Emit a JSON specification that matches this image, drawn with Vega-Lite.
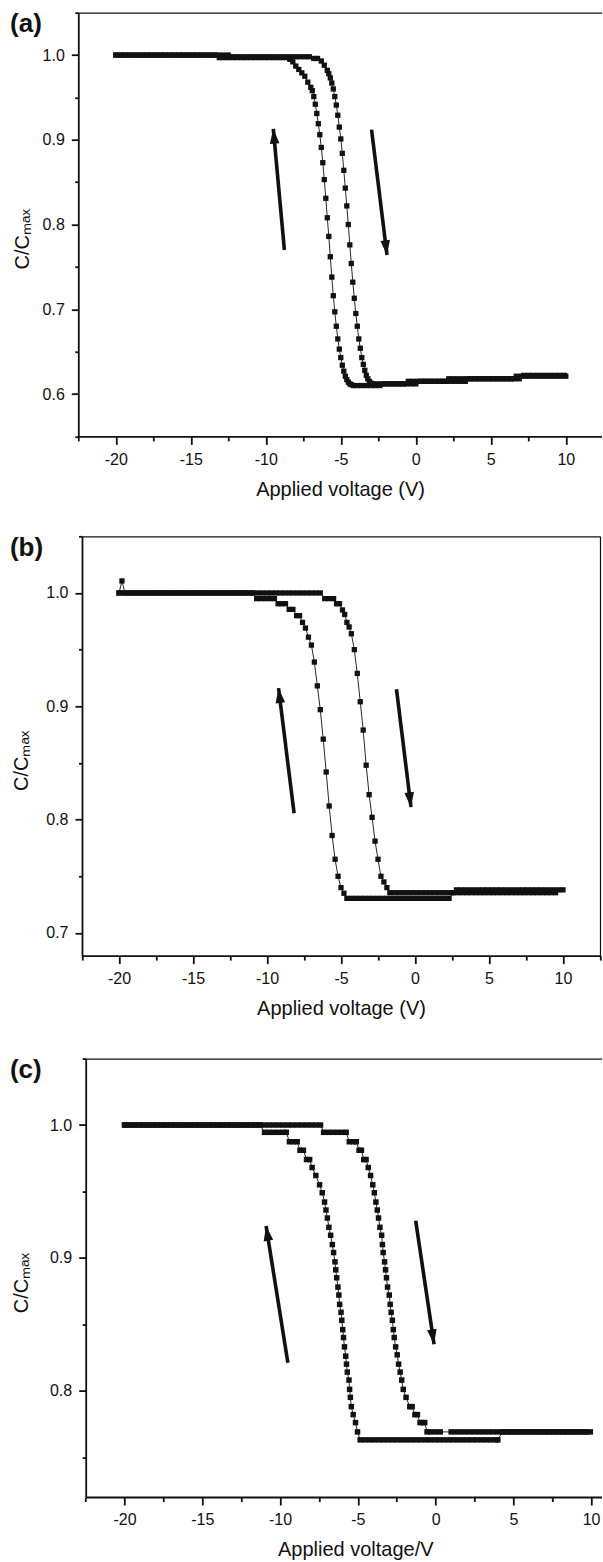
{
"$schema":"https://vega.github.io/schema/vega-lite/v6.json",
"padding":{"left":9.3,"top":4.7,"right":0,"bottom":0},
"config":{"view":{"stroke":null},"font":"Liberation Sans",
"axis":{"domainColor":"#111","domainWidth":1.8,"tickColor":"#111","tickWidth":1.8,"labelFont":"Liberation Sans","labelFontSize":16,"labelColor":"#111","labelPadding":7,"labelFlush":false,"labelOverlap":false,"titleFont":"Liberation Sans","titleFontSize":20,"titleFontWeight":"normal","titleColor":"#111","grid":false}},
"datasets":{
"af":[{"v":-20,"c":1},{"v":-19.7,"c":1},{"v":-19.4,"c":1},{"v":-19.1,"c":1},{"v":-18.8,"c":1},{"v":-18.5,"c":1},{"v":-18.2,"c":1},{"v":-17.9,"c":1},{"v":-17.6,"c":1},{"v":-17.3,"c":1},{"v":-17,"c":1},{"v":-16.7,"c":1},{"v":-16.4,"c":1},{"v":-16.1,"c":1},{"v":-15.8,"c":1},{"v":-15.5,"c":1},{"v":-15.2,"c":1},{"v":-14.9,"c":1},{"v":-14.6,"c":1},{"v":-14.3,"c":1},{"v":-14,"c":1},{"v":-13.7,"c":1},{"v":-13.4,"c":1},{"v":-13.1,"c":1},{"v":-12.8,"c":1},{"v":-12.5,"c":1},
{"v":-12.2,"c":0.998},{"v":-11.9,"c":0.998},{"v":-11.6,"c":0.998},{"v":-11.3,"c":0.998},{"v":-11,"c":0.998},{"v":-10.7,"c":0.998},{"v":-10.4,"c":0.998},{"v":-10.1,"c":0.998},{"v":-9.8,"c":0.998},{"v":-9.5,"c":0.998},{"v":-9.2,"c":0.998},{"v":-8.9,"c":0.998},{"v":-8.6,"c":0.998},{"v":-8.3,"c":0.998},{"v":-8,"c":0.998},{"v":-7.7,"c":0.998},{"v":-7.4,"c":0.998},{"v":-7.1,"c":0.998},{"v":-6.8,"c":0.996},{"v":-6.55,"c":0.996},
{"v":-6.3,"c":0.993},{"v":-6.1,"c":0.988},{"v":-5.9,"c":0.982},{"v":-5.8,"c":0.978},{"v":-5.7,"c":0.973},{"v":-5.6,"c":0.967},{"v":-5.5,"c":0.96},{"v":-5.4,"c":0.951},{"v":-5.3,"c":0.941},{"v":-5.2,"c":0.929},{"v":-5.1,"c":0.915},{"v":-5,"c":0.901},{"v":-4.9,"c":0.884},{"v":-4.8,"c":0.864},{"v":-4.7,"c":0.843},{"v":-4.6,"c":0.822},{"v":-4.5,"c":0.8},{"v":-4.4,"c":0.776},{"v":-4.3,"c":0.754},{"v":-4.2,"c":0.732},{"v":-4.1,"c":0.713},{"v":-4,"c":0.695},{"v":-3.9,"c":0.68},{"v":-3.8,"c":0.665},{"v":-3.7,"c":0.654},{"v":-3.6,"c":0.643},{"v":-3.5,"c":0.635},{"v":-3.4,"c":0.628},{"v":-3.3,"c":0.622},{"v":-3.2,"c":0.618},{"v":-3.1,"c":0.615},{"v":-3,"c":0.613},{"v":-2.85,"c":0.612},
{"v":-2.6,"c":0.612},{"v":-2.3,"c":0.612},{"v":-2,"c":0.612},{"v":-1.7,"c":0.612},{"v":-1.4,"c":0.612},{"v":-1.1,"c":0.612},{"v":-0.8,"c":0.612},
{"v":-0.5,"c":0.615},{"v":-0.2,"c":0.615},{"v":0.1,"c":0.615},{"v":0.4,"c":0.615},{"v":0.7,"c":0.615},{"v":1,"c":0.615},{"v":1.3,"c":0.615},{"v":1.6,"c":0.615},{"v":1.9,"c":0.615},
{"v":2.2,"c":0.618},{"v":2.5,"c":0.618},{"v":2.8,"c":0.618},{"v":3.1,"c":0.618},{"v":3.4,"c":0.618},{"v":3.7,"c":0.618},{"v":4,"c":0.618},{"v":4.3,"c":0.618},{"v":4.6,"c":0.618},{"v":4.9,"c":0.618},{"v":5.2,"c":0.618},{"v":5.5,"c":0.618},{"v":5.8,"c":0.618},{"v":6.1,"c":0.618},{"v":6.4,"c":0.618},
{"v":6.7,"c":0.621},{"v":7,"c":0.621},{"v":7.3,"c":0.621},{"v":7.6,"c":0.621},{"v":7.9,"c":0.621},{"v":8.2,"c":0.621},{"v":8.5,"c":0.621},{"v":8.8,"c":0.621},{"v":9.1,"c":0.621},{"v":9.4,"c":0.621},{"v":9.7,"c":0.621},{"v":10,"c":0.621}],
"ar":[{"v":-20,"c":1},{"v":-19.7,"c":1},{"v":-19.4,"c":1},{"v":-19.1,"c":1},{"v":-18.8,"c":1},{"v":-18.5,"c":1},{"v":-18.2,"c":1},{"v":-17.9,"c":1},{"v":-17.6,"c":1},{"v":-17.3,"c":1},{"v":-17,"c":1},{"v":-16.7,"c":1},{"v":-16.4,"c":1},{"v":-16.1,"c":1},{"v":-15.8,"c":1},{"v":-15.5,"c":1},{"v":-15.2,"c":1},{"v":-14.9,"c":1},{"v":-14.6,"c":1},{"v":-14.3,"c":1},{"v":-14,"c":1},{"v":-13.7,"c":1},{"v":-13.4,"c":1},
{"v":-13.1,"c":0.997},{"v":-12.8,"c":0.997},{"v":-12.5,"c":0.997},{"v":-12.2,"c":0.997},{"v":-11.9,"c":0.997},{"v":-11.6,"c":0.997},{"v":-11.3,"c":0.997},{"v":-11,"c":0.997},{"v":-10.7,"c":0.997},{"v":-10.4,"c":0.997},{"v":-10.1,"c":0.997},{"v":-9.8,"c":0.997},{"v":-9.5,"c":0.997},{"v":-9.2,"c":0.997},{"v":-8.9,"c":0.997},{"v":-8.6,"c":0.997},
{"v":-8.4,"c":0.995},{"v":-8.2,"c":0.992},{"v":-8,"c":0.987},{"v":-7.8,"c":0.983},{"v":-7.6,"c":0.979},{"v":-7.4,"c":0.975},{"v":-7.2,"c":0.968},{"v":-7,"c":0.962},{"v":-6.9,"c":0.958},{"v":-6.8,"c":0.951},{"v":-6.7,"c":0.942},{"v":-6.6,"c":0.931},{"v":-6.5,"c":0.919},{"v":-6.4,"c":0.906},{"v":-6.3,"c":0.891},{"v":-6.2,"c":0.873},{"v":-6.1,"c":0.853},{"v":-6,"c":0.831},{"v":-5.9,"c":0.808},{"v":-5.8,"c":0.786},{"v":-5.7,"c":0.762},{"v":-5.6,"c":0.738},{"v":-5.5,"c":0.716},{"v":-5.4,"c":0.697},{"v":-5.3,"c":0.68},{"v":-5.2,"c":0.665},{"v":-5.1,"c":0.653},{"v":-5,"c":0.643},{"v":-4.9,"c":0.634},{"v":-4.8,"c":0.627},{"v":-4.7,"c":0.621},{"v":-4.6,"c":0.617},{"v":-4.5,"c":0.614},{"v":-4.4,"c":0.612},{"v":-4.3,"c":0.611},{"v":-4.15,"c":0.61},
{"v":-3.9,"c":0.61},{"v":-3.6,"c":0.61},{"v":-3.3,"c":0.61},{"v":-3,"c":0.61},{"v":-2.7,"c":0.61},{"v":-2.4,"c":0.61},
{"v":-2.1,"c":0.612},{"v":-1.8,"c":0.612},{"v":-1.5,"c":0.612},{"v":-1.2,"c":0.612},{"v":-0.9,"c":0.612},{"v":-0.6,"c":0.612},{"v":-0.3,"c":0.612},{"v":0,"c":0.612},
{"v":0.3,"c":0.615},{"v":0.6,"c":0.615},{"v":0.9,"c":0.615},{"v":1.2,"c":0.615},{"v":1.5,"c":0.615},{"v":1.8,"c":0.615},{"v":2.1,"c":0.615},{"v":2.4,"c":0.615},{"v":2.7,"c":0.615},{"v":3,"c":0.615},{"v":3.3,"c":0.615},
{"v":3.6,"c":0.618},{"v":3.9,"c":0.618},{"v":4.2,"c":0.618},{"v":4.5,"c":0.618},{"v":4.8,"c":0.618},{"v":5.1,"c":0.618},{"v":5.4,"c":0.618},{"v":5.7,"c":0.618},{"v":6,"c":0.618},{"v":6.3,"c":0.618},{"v":6.6,"c":0.618},{"v":6.9,"c":0.618},
{"v":7.2,"c":0.622},{"v":7.5,"c":0.622},{"v":7.8,"c":0.622},{"v":8.1,"c":0.622},{"v":8.4,"c":0.622},{"v":8.7,"c":0.622},{"v":9,"c":0.622},{"v":9.3,"c":0.622},{"v":9.6,"c":0.622},{"v":9.9,"c":0.622}],
"bf":[{"v":-20,"c":1},{"v":-19.8,"c":1.0106},{"v":-19.6,"c":1},{"v":-19.3,"c":1},{"v":-19,"c":1},{"v":-18.7,"c":1},{"v":-18.4,"c":1},{"v":-18.1,"c":1},{"v":-17.8,"c":1},{"v":-17.5,"c":1},{"v":-17.2,"c":1},{"v":-16.9,"c":1},{"v":-16.6,"c":1},{"v":-16.3,"c":1},{"v":-16,"c":1},{"v":-15.7,"c":1},{"v":-15.4,"c":1},{"v":-15.1,"c":1},{"v":-14.8,"c":1},{"v":-14.5,"c":1},{"v":-14.2,"c":1},{"v":-13.9,"c":1},{"v":-13.6,"c":1},{"v":-13.3,"c":1},{"v":-13,"c":1},{"v":-12.7,"c":1},{"v":-12.4,"c":1},{"v":-12.1,"c":1},{"v":-11.8,"c":1},{"v":-11.5,"c":1},{"v":-11.2,"c":1},{"v":-10.9,"c":1},{"v":-10.6,"c":1},{"v":-10.3,"c":1},{"v":-10,"c":1},{"v":-9.7,"c":1},{"v":-9.4,"c":1},{"v":-9.1,"c":1},{"v":-8.8,"c":1},{"v":-8.5,"c":1},{"v":-8.2,"c":1},{"v":-7.9,"c":1},{"v":-7.6,"c":1},{"v":-7.3,"c":1},{"v":-7,"c":1},{"v":-6.7,"c":1},{"v":-6.4,"c":1},
{"v":-6.1,"c":0.995},{"v":-5.8,"c":0.995},{"v":-5.5,"c":0.995},{"v":-5.3,"c":0.9905},{"v":-5.1,"c":0.9905},
{"v":-4.9,"c":0.985},{"v":-4.75,"c":0.981},{"v":-4.6,"c":0.974},{"v":-4.45,"c":0.97},{"v":-4.3,"c":0.964},{"v":-4.1,"c":0.95},{"v":-3.9,"c":0.929},{"v":-3.7,"c":0.904},{"v":-3.5,"c":0.879},{"v":-3.3,"c":0.848},{"v":-3.1,"c":0.822},{"v":-2.9,"c":0.802},{"v":-2.7,"c":0.781},{"v":-2.5,"c":0.765},{"v":-2.3,"c":0.75},{"v":-2.1,"c":0.745},{"v":-1.9,"c":0.74},{"v":-1.7,"c":0.7355},
{"v":-1.4,"c":0.7355},{"v":-1.1,"c":0.7355},{"v":-0.8,"c":0.7355},{"v":-0.5,"c":0.7355},{"v":-0.2,"c":0.7355},{"v":0.1,"c":0.7355},{"v":0.4,"c":0.7355},{"v":0.7,"c":0.7355},{"v":1,"c":0.7355},{"v":1.3,"c":0.7355},{"v":1.6,"c":0.7355},{"v":1.9,"c":0.7355},{"v":2.2,"c":0.7355},{"v":2.5,"c":0.7355},
{"v":2.8,"c":0.738},{"v":3.1,"c":0.738},{"v":3.4,"c":0.738},{"v":3.7,"c":0.738},{"v":4,"c":0.738},{"v":4.3,"c":0.738},{"v":4.6,"c":0.738},{"v":4.9,"c":0.738},{"v":5.2,"c":0.738},{"v":5.5,"c":0.738},{"v":5.8,"c":0.738},{"v":6.1,"c":0.738},{"v":6.4,"c":0.738},{"v":6.7,"c":0.738},{"v":7,"c":0.738},{"v":7.3,"c":0.738},{"v":7.6,"c":0.738},{"v":7.9,"c":0.738},{"v":8.2,"c":0.738},{"v":8.5,"c":0.738},{"v":8.8,"c":0.738},{"v":9.1,"c":0.738},{"v":9.4,"c":0.738},{"v":9.7,"c":0.738},{"v":10,"c":0.738}],
"br":[{"v":-20,"c":1},{"v":-19.7,"c":1},{"v":-19.4,"c":1},{"v":-19.1,"c":1},{"v":-18.8,"c":1},{"v":-18.5,"c":1},{"v":-18.2,"c":1},{"v":-17.9,"c":1},{"v":-17.6,"c":1},{"v":-17.3,"c":1},{"v":-17,"c":1},{"v":-16.7,"c":1},{"v":-16.4,"c":1},{"v":-16.1,"c":1},{"v":-15.8,"c":1},{"v":-15.5,"c":1},{"v":-15.2,"c":1},{"v":-14.9,"c":1},{"v":-14.6,"c":1},{"v":-14.3,"c":1},{"v":-14,"c":1},{"v":-13.7,"c":1},{"v":-13.4,"c":1},{"v":-13.1,"c":1},{"v":-12.8,"c":1},{"v":-12.5,"c":1},{"v":-12.2,"c":1},{"v":-11.9,"c":1},{"v":-11.6,"c":1},{"v":-11.3,"c":1},{"v":-11,"c":1},
{"v":-10.7,"c":0.995},{"v":-10.4,"c":0.995},{"v":-10.1,"c":0.995},{"v":-9.8,"c":0.995},{"v":-9.5,"c":0.995},{"v":-9.25,"c":0.9905},{"v":-9,"c":0.9905},{"v":-8.75,"c":0.9905},{"v":-8.5,"c":0.9855},{"v":-8.25,"c":0.9855},{"v":-8,"c":0.98},{"v":-7.8,"c":0.98},
{"v":-7.6,"c":0.974},{"v":-7.4,"c":0.969},{"v":-7.2,"c":0.961},{"v":-7,"c":0.954},{"v":-6.8,"c":0.939},{"v":-6.6,"c":0.918},{"v":-6.4,"c":0.897},{"v":-6.2,"c":0.871},{"v":-6,"c":0.842},{"v":-5.8,"c":0.812},{"v":-5.6,"c":0.786},{"v":-5.4,"c":0.765},{"v":-5.2,"c":0.75},{"v":-5,"c":0.74},{"v":-4.8,"c":0.735},
{"v":-4.6,"c":0.7305},{"v":-4.3,"c":0.7305},{"v":-4,"c":0.7305},{"v":-3.7,"c":0.7305},{"v":-3.4,"c":0.7305},{"v":-3.1,"c":0.7305},{"v":-2.8,"c":0.7305},{"v":-2.5,"c":0.7305},{"v":-2.2,"c":0.7305},{"v":-1.9,"c":0.7305},{"v":-1.6,"c":0.7305},{"v":-1.3,"c":0.7305},{"v":-1,"c":0.7305},{"v":-0.7,"c":0.7305},{"v":-0.4,"c":0.7305},{"v":-0.1,"c":0.7305},{"v":0.2,"c":0.7305},{"v":0.5,"c":0.7305},{"v":0.8,"c":0.7305},{"v":1.1,"c":0.7305},{"v":1.4,"c":0.7305},{"v":1.7,"c":0.7305},{"v":2,"c":0.7305},{"v":2.3,"c":0.7305},
{"v":2.6,"c":0.7355},{"v":2.9,"c":0.7355},{"v":3.2,"c":0.7355},{"v":3.5,"c":0.7355},{"v":3.8,"c":0.7355},{"v":4.1,"c":0.7355},{"v":4.4,"c":0.7355},{"v":4.7,"c":0.7355},{"v":5,"c":0.7355},{"v":5.3,"c":0.7355},{"v":5.6,"c":0.7355},{"v":5.9,"c":0.7355},{"v":6.2,"c":0.7355},{"v":6.5,"c":0.7355},{"v":6.8,"c":0.7355},{"v":7.1,"c":0.7355},{"v":7.4,"c":0.7355},{"v":7.7,"c":0.7355},{"v":8,"c":0.7355},{"v":8.3,"c":0.7355},{"v":8.6,"c":0.7355},{"v":8.9,"c":0.7355},{"v":9.2,"c":0.7355},{"v":9.5,"c":0.7355}],
"cf":[{"v":-20,"c":1},{"v":-19.7,"c":1},{"v":-19.4,"c":1},{"v":-19.1,"c":1},{"v":-18.8,"c":1},{"v":-18.5,"c":1},{"v":-18.2,"c":1},{"v":-17.9,"c":1},{"v":-17.6,"c":1},{"v":-17.3,"c":1},{"v":-17,"c":1},{"v":-16.7,"c":1},{"v":-16.4,"c":1},{"v":-16.1,"c":1},{"v":-15.8,"c":1},{"v":-15.5,"c":1},{"v":-15.2,"c":1},{"v":-14.9,"c":1},{"v":-14.6,"c":1},{"v":-14.3,"c":1},{"v":-14,"c":1},{"v":-13.7,"c":1},{"v":-13.4,"c":1},{"v":-13.1,"c":1},{"v":-12.8,"c":1},{"v":-12.5,"c":1},{"v":-12.2,"c":1},{"v":-11.9,"c":1},{"v":-11.6,"c":1},{"v":-11.3,"c":1},{"v":-11,"c":1},{"v":-10.7,"c":1},{"v":-10.4,"c":1},{"v":-10.1,"c":1},{"v":-9.8,"c":1},{"v":-9.5,"c":1},{"v":-9.2,"c":1},{"v":-8.9,"c":1},{"v":-8.6,"c":1},{"v":-8.3,"c":1},{"v":-8,"c":1},{"v":-7.7,"c":1},{"v":-7.4,"c":1},
{"v":-7.2,"c":0.9945},{"v":-6.9,"c":0.9945},{"v":-6.6,"c":0.9945},{"v":-6.3,"c":0.9945},{"v":-6,"c":0.9945},{"v":-5.75,"c":0.9945},{"v":-5.55,"c":0.9874},{"v":-5.3,"c":0.9874},{"v":-5.1,"c":0.9874},{"v":-4.92,"c":0.981},{"v":-4.77,"c":0.981},
{"v":-4.62,"c":0.974},{"v":-4.47,"c":0.974},{"v":-4.33,"c":0.968},{"v":-4.18,"c":0.962},{"v":-4.04,"c":0.955},{"v":-3.94,"c":0.949},{"v":-3.84,"c":0.942},{"v":-3.75,"c":0.936},{"v":-3.67,"c":0.93},{"v":-3.58,"c":0.923},{"v":-3.47,"c":0.917},{"v":-3.42,"c":0.91},{"v":-3.37,"c":0.904},{"v":-3.28,"c":0.897},{"v":-3.22,"c":0.891},{"v":-3.16,"c":0.885},{"v":-3.09,"c":0.878},{"v":-2.98,"c":0.872},{"v":-2.92,"c":0.865},{"v":-2.86,"c":0.859},{"v":-2.78,"c":0.853},{"v":-2.72,"c":0.846},{"v":-2.66,"c":0.84},{"v":-2.57,"c":0.833},{"v":-2.47,"c":0.827},{"v":-2.38,"c":0.82},{"v":-2.28,"c":0.814},{"v":-2.18,"c":0.808},{"v":-2.08,"c":0.801},{"v":-1.9,"c":0.795},{"v":-1.66,"c":0.788},{"v":-1.51,"c":0.788},{"v":-1.33,"c":0.782},{"v":-1.17,"c":0.782},{"v":-1,"c":0.776},{"v":-0.85,"c":0.776},{"v":-0.7,"c":0.776},
{"v":-0.55,"c":0.769},{"v":-0.3,"c":0.769},{"v":0,"c":0.769},{"v":0.3,"c":0.769},{"v":1,"c":0.769},{"v":1.3,"c":0.769},{"v":1.6,"c":0.769},{"v":1.9,"c":0.769},{"v":2.2,"c":0.769},{"v":2.5,"c":0.769},{"v":2.8,"c":0.769},{"v":3.1,"c":0.769},{"v":3.4,"c":0.769},{"v":3.7,"c":0.769},{"v":4,"c":0.769},{"v":4.3,"c":0.769},{"v":4.6,"c":0.769},{"v":4.9,"c":0.769},{"v":5.2,"c":0.769},{"v":5.5,"c":0.769},{"v":5.8,"c":0.769},{"v":6.1,"c":0.769},{"v":6.4,"c":0.769},{"v":6.7,"c":0.769},{"v":7,"c":0.769},{"v":7.3,"c":0.769},{"v":7.6,"c":0.769},{"v":7.9,"c":0.769},{"v":8.2,"c":0.769},{"v":8.5,"c":0.769},{"v":8.8,"c":0.769},{"v":9.1,"c":0.769},{"v":9.4,"c":0.769},{"v":9.7,"c":0.769},{"v":9.95,"c":0.769}],
"cr":[{"v":-20,"c":1},{"v":-19.7,"c":1},{"v":-19.4,"c":1},{"v":-19.1,"c":1},{"v":-18.8,"c":1},{"v":-18.5,"c":1},{"v":-18.2,"c":1},{"v":-17.9,"c":1},{"v":-17.6,"c":1},{"v":-17.3,"c":1},{"v":-17,"c":1},{"v":-16.7,"c":1},{"v":-16.4,"c":1},{"v":-16.1,"c":1},{"v":-15.8,"c":1},{"v":-15.5,"c":1},{"v":-15.2,"c":1},{"v":-14.9,"c":1},{"v":-14.6,"c":1},{"v":-14.3,"c":1},{"v":-14,"c":1},{"v":-13.7,"c":1},{"v":-13.4,"c":1},{"v":-13.1,"c":1},{"v":-12.8,"c":1},{"v":-12.5,"c":1},{"v":-12.2,"c":1},{"v":-11.9,"c":1},{"v":-11.6,"c":1},{"v":-11.3,"c":1},
{"v":-11,"c":0.9945},{"v":-10.7,"c":0.9945},{"v":-10.4,"c":0.9945},{"v":-10.1,"c":0.9945},{"v":-9.8,"c":0.9945},{"v":-9.6,"c":0.9945},{"v":-9.4,"c":0.9874},{"v":-9.15,"c":0.9874},{"v":-8.9,"c":0.9874},{"v":-8.72,"c":0.981},{"v":-8.5,"c":0.981},{"v":-8.3,"c":0.974},{"v":-8.1,"c":0.974},
{"v":-7.94,"c":0.968},{"v":-7.7,"c":0.962},{"v":-7.46,"c":0.955},{"v":-7.29,"c":0.949},{"v":-7.14,"c":0.942},{"v":-7.05,"c":0.936},{"v":-6.96,"c":0.93},{"v":-6.86,"c":0.923},{"v":-6.75,"c":0.917},{"v":-6.64,"c":0.91},{"v":-6.56,"c":0.904},{"v":-6.47,"c":0.897},{"v":-6.42,"c":0.891},{"v":-6.36,"c":0.885},{"v":-6.28,"c":0.878},{"v":-6.22,"c":0.872},{"v":-6.17,"c":0.865},{"v":-6.08,"c":0.859},{"v":-6.03,"c":0.853},{"v":-5.97,"c":0.846},{"v":-5.92,"c":0.84},{"v":-5.86,"c":0.833},{"v":-5.78,"c":0.826},{"v":-5.73,"c":0.82},{"v":-5.68,"c":0.814},{"v":-5.57,"c":0.808},{"v":-5.53,"c":0.801},{"v":-5.48,"c":0.795},{"v":-5.42,"c":0.788},{"v":-5.3,"c":0.782},{"v":-5.15,"c":0.776},{"v":-5.02,"c":0.769},
{"v":-4.85,"c":0.763},{"v":-4.55,"c":0.763},{"v":-4.25,"c":0.763},{"v":-3.95,"c":0.763},{"v":-3.65,"c":0.763},{"v":-3.35,"c":0.763},{"v":-3.05,"c":0.763},{"v":-2.75,"c":0.763},{"v":-2.45,"c":0.763},{"v":-2.15,"c":0.763},{"v":-1.85,"c":0.763},{"v":-1.55,"c":0.763},{"v":-1.25,"c":0.763},{"v":-0.95,"c":0.763},{"v":-0.65,"c":0.763},{"v":-0.35,"c":0.763},{"v":-0.05,"c":0.763},{"v":0.25,"c":0.763},{"v":0.55,"c":0.763},{"v":0.85,"c":0.763},{"v":1.15,"c":0.763},{"v":1.45,"c":0.763},{"v":1.75,"c":0.763},{"v":2.05,"c":0.763},{"v":2.35,"c":0.763},{"v":2.65,"c":0.763},{"v":2.95,"c":0.763},{"v":3.25,"c":0.763},{"v":3.55,"c":0.763},{"v":3.85,"c":0.763},{"v":4,"c":0.763},
{"v":4.3,"c":0.769},{"v":4.6,"c":0.769},{"v":4.9,"c":0.769},{"v":5.2,"c":0.769},{"v":5.5,"c":0.769},{"v":5.8,"c":0.769},{"v":6.1,"c":0.769},{"v":6.4,"c":0.769},{"v":6.7,"c":0.769},{"v":7,"c":0.769},{"v":7.3,"c":0.769},{"v":7.6,"c":0.769},{"v":7.9,"c":0.769},{"v":8.2,"c":0.769},{"v":8.5,"c":0.769},{"v":8.8,"c":0.769},{"v":9.1,"c":0.769},{"v":9.4,"c":0.769},{"v":9.7,"c":0.769}],
"aA":[{"d":"u","v":-9.5,"c":0.913,"v2":-8.76,"c2":0.77},{"d":"d","v":-1.92,"c":0.764,"v2":-2.95,"c2":0.912}],
"bA":[{"d":"u","v":-9.22,"c":0.916,"v2":-8.17,"c2":0.8056},{"d":"d","v":-0.27,"c":0.811,"v2":-1.25,"c2":0.915}],
"cA":[{"d":"u","v":-10.9,"c":0.924,"v2":-9.5,"c2":0.821},{"d":"d","v":-0.1,"c":0.835,"v2":-1.28,"c2":0.928}]
},
"concat":[
{"width":523.5,"height":423.7,
"title":{"text":"(a)","orient":"top","anchor":"start","frame":"bounds","font":"Liberation Sans","fontSize":26,"fontWeight":"bold","color":"#111","offset":0,"dx":-2,"dy":32},
"resolve":{"axis":{"x":"independent","y":"independent"}},
"encoding":{"x":{"field":"v","type":"quantitative","scale":{"domain":[-22.5,12.4],"nice":false,"zero":false},"axis":null},"y":{"field":"c","type":"quantitative","scale":{"domain":[0.55,1.05],"nice":false,"zero":false},"axis":null}},
"layer":[
{"data":{"name":"ar"},"mark":{"type":"line","color":"#111","strokeWidth":0.9,"point":{"shape":"square","size":28,"filled":true,"color":"#111","opacity":1}},
"encoding":{"x":{"field":"v","type":"quantitative","scale":{"domain":[-22.5,12.4],"nice":false,"zero":false},"axis":{"orient":"bottom","values":[-22.5,-20,-17.5,-15,-12.5,-10,-7.5,-5,-2.5,0,2.5,5,7.5,10],"labelExpr":"abs(datum.value % 5) < 0.01 ? '' + datum.value : ''","tickSize":{"condition":{"test":"abs(datum.value % 5) > 0.01","value":4.5},"value":8},"title":"Applied voltage (V)","titlePadding":12}},
"y":{"field":"c","type":"quantitative","scale":{"domain":[0.55,1.05],"nice":false,"zero":false},"axis":{"orient":"left","values":[0.55,0.6,0.65,0.7,0.75,0.8,0.85,0.9,0.95,1.0,1.05],"labelExpr":"round(datum.value*20) % 2 == 0 ? format(datum.value, '.1f') : ''","tickSize":{"condition":{"test":"round(datum.value*20) % 2 == 1","value":3.5},"value":7},"title":"C/Cₘₐₓ","titlePadding":10,"titleY":226}}}},
{"data":{"name":"af"},"mark":{"type":"line","color":"#111","strokeWidth":0.9,"point":{"shape":"square","size":28,"filled":true,"color":"#111","opacity":1}}},
{"data":{"name":"aA"},"mark":{"type":"rule","color":"#111","strokeWidth":3.6},
"encoding":{"x":{"field":"v","type":"quantitative","scale":{"domain":[-22.5,12.4],"nice":false,"zero":false},"axis":{"orient":"top","domainWidth":1.2,"ticks":false,"labels":false,"title":null}},"x2":{"field":"v2"},"y2":{"field":"c2"}}},
{"data":{"name":"aA"},"transform":[{"filter":"datum.d=='u'"}],"mark":{"type":"point","shape":"M0,0L0.65,2L-0.65,2Z","size":220,"filled":true,"color":"#111","opacity":1,"angle":-5.2}},
{"data":{"name":"aA"},"transform":[{"filter":"datum.d=='d'"}],"mark":{"type":"point","shape":"M0,0L0.65,2L-0.65,2Z","size":220,"filled":true,"color":"#111","opacity":1,"angle":173}}
]},
{"concat":[
{"width":521.7,"height":419.3,
"title":{"text":"(b)","orient":"top","anchor":"start","frame":"bounds","font":"Liberation Sans","fontSize":26,"fontWeight":"bold","color":"#111","offset":0,"dx":-2,"dy":33},
"resolve":{"axis":{"x":"independent","y":"independent"}},
"encoding":{"x":{"field":"v","type":"quantitative","scale":{"domain":[-22.5,12.5],"range":[3.7,521.7],"nice":false,"zero":false},"axis":null},"y":{"field":"c","type":"quantitative","scale":{"domain":[0.68,1.05],"nice":false,"zero":false},"axis":null}},
"layer":[
{"data":{"name":"br"},"mark":{"type":"line","color":"#111","strokeWidth":0.9,"point":{"shape":"square","size":28,"filled":true,"color":"#111","opacity":1}},
"encoding":{"x":{"field":"v","type":"quantitative","scale":{"domain":[-22.5,12.5],"range":[3.7,521.7],"nice":false,"zero":false},"axis":{"orient":"bottom","values":[-22.5,-20,-17.5,-15,-12.5,-10,-7.5,-5,-2.5,0,2.5,5,7.5,10,12.5],"labelExpr":"abs(datum.value % 5) < 0.01 ? '' + datum.value : ''","tickSize":{"condition":{"test":"abs(datum.value % 5) > 0.01","value":4.5},"value":8},"title":"Applied voltage (V)","titlePadding":12}},
"y":{"field":"c","type":"quantitative","scale":{"domain":[0.68,1.05],"nice":false,"zero":false},"axis":{"orient":"left","offset":-3.7,"values":[0.7,0.75,0.8,0.85,0.9,0.95,1.0,1.05],"labelExpr":"round(datum.value*20) % 2 == 0 ? format(datum.value, '.1f') : ''","tickSize":{"condition":{"test":"round(datum.value*20) % 2 == 1","value":3.5},"value":7},"title":"C/Cₘₐₓ","titlePadding":13.8,"titleY":224}}}},
{"data":{"name":"bf"},"mark":{"type":"line","color":"#111","strokeWidth":0.9,"point":{"shape":"square","size":28,"filled":true,"color":"#111","opacity":1}}},
{"data":{"name":"bA"},"mark":{"type":"rule","color":"#111","strokeWidth":3.6},
"encoding":{"x":{"field":"v","type":"quantitative","scale":{"domain":[-22.5,12.5],"range":[3.7,521.7],"nice":false,"zero":false},"axis":{"orient":"top","domainWidth":1.2,"ticks":false,"labels":false,"title":null}},"x2":{"field":"v2"},"y2":{"field":"c2"}}},
{"data":{"name":"bA"},"transform":[{"filter":"datum.d=='u'"}],"mark":{"type":"point","shape":"M0,0L0.65,2L-0.65,2Z","size":220,"filled":true,"color":"#111","opacity":1,"angle":-7.1}},
{"data":{"name":"bA"},"transform":[{"filter":"datum.d=='d'"}],"mark":{"type":"point","shape":"M0,0L0.65,2L-0.65,2Z","size":220,"filled":true,"color":"#111","opacity":1,"angle":173},
"encoding":{"y":{"field":"c","type":"quantitative","scale":{"domain":[0.68,1.05],"nice":false,"zero":false},"axis":{"orient":"right","domainWidth":1.2,"ticks":false,"labels":false,"title":null}}}}
]},
{"width":523.7,"height":438.4,
"title":{"text":"(c)","orient":"top","anchor":"start","frame":"bounds","font":"Liberation Sans","fontSize":26,"fontWeight":"bold","color":"#111","offset":0,"dx":-2,"dy":32},
"resolve":{"axis":{"x":"independent","y":"independent"}},
"encoding":{"x":{"field":"v","type":"quantitative","scale":{"domain":[-22.5,10.7],"range":[7.4,523.7],"nice":false,"zero":false},"axis":null},"y":{"field":"c","type":"quantitative","scale":{"domain":[0.72,1.05],"nice":false,"zero":false},"axis":null}},
"layer":[
{"data":{"name":"cr"},"mark":{"type":"line","color":"#111","strokeWidth":0.9,"point":{"shape":"square","size":30,"filled":true,"color":"#111","opacity":1}},
"encoding":{"x":{"field":"v","type":"quantitative","scale":{"domain":[-22.5,10.7],"range":[7.4,523.7],"nice":false,"zero":false},"axis":{"orient":"bottom","values":[-22.5,-20,-17.5,-15,-12.5,-10,-7.5,-5,-2.5,0,2.5,5,7.5,10],"labelExpr":"abs(datum.value % 5) < 0.01 ? '' + datum.value : ''","tickSize":{"condition":{"test":"abs(datum.value % 5) > 0.01","value":4.5},"value":8},"title":"Applied voltage/V","titlePadding":12,"titleX":277}},
"y":{"field":"c","type":"quantitative","scale":{"domain":[0.72,1.05],"nice":false,"zero":false},"axis":{"orient":"left","offset":-7.4,"values":[0.75,0.8,0.85,0.9,0.95,1.0,1.05],"labelExpr":"round(datum.value*20) % 2 == 0 ? format(datum.value, '.1f') : ''","tickSize":{"condition":{"test":"round(datum.value*20) % 2 == 1","value":3.5},"value":7},"title":"C/Cₘₐₓ","titlePadding":17.5,"titleY":224}}}},
{"data":{"name":"cf"},"mark":{"type":"line","color":"#111","strokeWidth":0.9,"point":{"shape":"square","size":30,"filled":true,"color":"#111","opacity":1}}},
{"data":{"name":"cA"},"mark":{"type":"rule","color":"#111","strokeWidth":3.6},
"encoding":{"x":{"field":"v","type":"quantitative","scale":{"domain":[-22.5,10.7],"range":[7.4,523.7],"nice":false,"zero":false},"axis":{"orient":"top","domainWidth":1.2,"ticks":false,"labels":false,"title":null}},"x2":{"field":"v2"},"y2":{"field":"c2"}}},
{"data":{"name":"cA"},"transform":[{"filter":"datum.d=='u'"}],"mark":{"type":"point","shape":"M0,0L0.65,2L-0.65,2Z","size":220,"filled":true,"color":"#111","opacity":1,"angle":-9.1}},
{"data":{"name":"cA"},"transform":[{"filter":"datum.d=='d'"}],"mark":{"type":"point","shape":"M0,0L0.65,2L-0.65,2Z","size":220,"filled":true,"color":"#111","opacity":1,"angle":171.5}}
]}
],"columns":1,"align":"none","spacing":31.3,"resolve":{"scale":{"x":"independent","y":"independent"}}}
],
"columns":1,"align":"none","spacing":28.6,
"resolve":{"scale":{"x":"independent","y":"independent"}}
}
